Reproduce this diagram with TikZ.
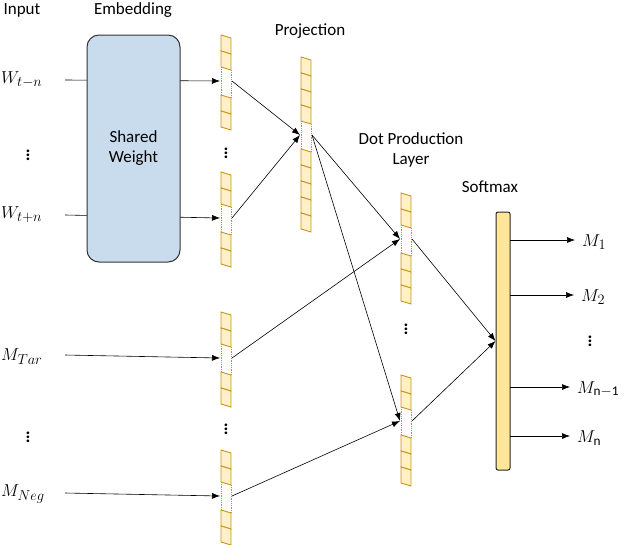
\documentclass[tikz,border=0pt]{standalone}
\usepackage{fontspec}
\setmainfont{Carlito}
\usetikzlibrary{arrows.meta}
\definecolor{vec}{HTML}{C89614}
\definecolor{vecf}{HTML}{FFF0C8}
\definecolor{soft}{HTML}{FFE699}
\definecolor{shared}{HTML}{C9DCEE}
\newcommand\myvec[5]{% x, ytop, cells before, cells after, name
 \foreach \i in {1,...,#3}{\draw[vcell] ({#1-5},{#2+(\i-1)*16}) -- ({#1+5},{#2+(\i-1)*16+3}) -- ({#1+5},{#2+\i*16+3}) -- ({#1-5},{#2+\i*16}) -- cycle;}
 \draw[vec,densely dotted,line width=0.8pt] ({#1-5},{#2+#3*16}) -- ({#1-5},{#2+#3*16+28});
 \draw[vec,densely dotted,line width=0.8pt] ({#1+5},{#2+#3*16+3}) -- ({#1+5},{#2+#3*16+31});
 \coordinate (#5) at ({#1-6},{#2+#3*16+14});
 \coordinate (#5o) at ({#1+6},{#2+#3*16+14});
 \foreach \i in {1,...,#4}{\draw[vcell] ({#1-5},{#2+#3*16+28+(\i-1)*16}) -- ({#1+5},{#2+#3*16+31+(\i-1)*16}) -- ({#1+5},{#2+#3*16+31+\i*16}) -- ({#1-5},{#2+#3*16+28+\i*16}) -- cycle;}
}
\begin{document}
\begin{tikzpicture}[x=1pt,y=-1pt,
 vcell/.style={draw=vec,fill=vecf,line width=0.9pt},
 arr/.style={-{Latex[length=8pt,width=6pt]},line width=0.6pt},
 lab/.style={font=\fontsize{17}{20}\selectfont,inner sep=1pt},
 mth/.style={font=\fontsize{19}{20}\selectfont,anchor=west,inner sep=1pt},
 vd/.style={font=\fontsize{18}{18}\selectfont\bfseries,inner sep=0pt}]
\useasboundingbox (0,0) rectangle (628,544);
\coordinate (a1) at (65,80); \coordinate (a2) at (65,215);
\coordinate (a3) at (65,355); \coordinate (a4) at (65,493);
\myvec{226}{35}{2}{2}{v1}
\myvec{226}{172}{2}{2}{v2}
\myvec{226}{312}{2}{2}{v3}
\myvec{226}{450}{2}{2}{v4}
\myvec{306}{57}{4}{5}{p}
\myvec{406}{193}{2}{3}{d1}
\myvec{406}{375}{2}{3}{d2}
\draw[arr] (a1) -- (v1); \draw[arr] (a2) -- (v2);
\draw[arr] (a3) -- (v3); \draw[arr] (a4) -- (v4);
\node[draw=black!80,fill=shared,rounded corners=12pt,line width=1pt,minimum width=93pt,minimum height=227pt,align=center,lab] (sw) at (133.5,148.5) {Shared\\Weight};
\node[lab] (tin) at (22,10) {Input};
\node[lab] (temb) at (133,10) {Embedding};
\node[lab] (tpro) at (310,31) {Projection};
\node[lab,align=center] (tdot) at (411,150) {Dot Production\\Layer};
\node[lab] (tsm) at (490,187) {Softmax};
\node[draw=black!85,fill=soft,rounded corners=2pt,line width=1pt,minimum width=14pt,minimum height=258pt,inner sep=0pt] (sm) at (503,341) {};
\node[mth] (w1) at (0,80) {$W_{t-n}$};
\node[vd] (e1) at (28,152) {$\vdots$};
\node[mth] (w2) at (0,215) {$W_{t+n}$};
\node[mth] (m1) at (0,357) {$M_{Tar}$};
\node[vd] (e2) at (28,434) {$\vdots$};
\node[mth] (m2) at (0,494) {$M_{Neg}$};
\node[vd] (e3) at (226,150) {$\vdots$};
\node[vd] (e4) at (226,426) {$\vdots$};
\node[vd] (e5) at (406,326) {$\vdots$};
\draw[arr] (v1o) -- (p); \draw[arr] (v2o) -- (p);
\draw[arr] (po) -- (d1); \draw[arr] (po) -- (d2);
\draw[arr] (v3o) -- (d1); \draw[arr] (v4o) -- (d2);
\draw[arr] (d1o) -- (sm.west); \draw[arr] (d2o) -- (sm.west);
\node[mth] (o1) at (581,242) {$M_1$};
\node[mth] (o2) at (580,297) {$M_2$};
\node[vd] (o3) at (590,338) {$\vdots$};
\node[mth] (o4) at (576,389) {$M_{\mathrm{n-1}}$};
\node[mth] (o5) at (576,438) {$M_{\mathrm{n}}$};
\foreach \y/\n in {240/o1,295/o2,387/o4,436/o5}{\draw[arr] (510,\y) -- ([xshift=-6pt]\n.west|-0,\y);}
\end{tikzpicture}
\end{document}
